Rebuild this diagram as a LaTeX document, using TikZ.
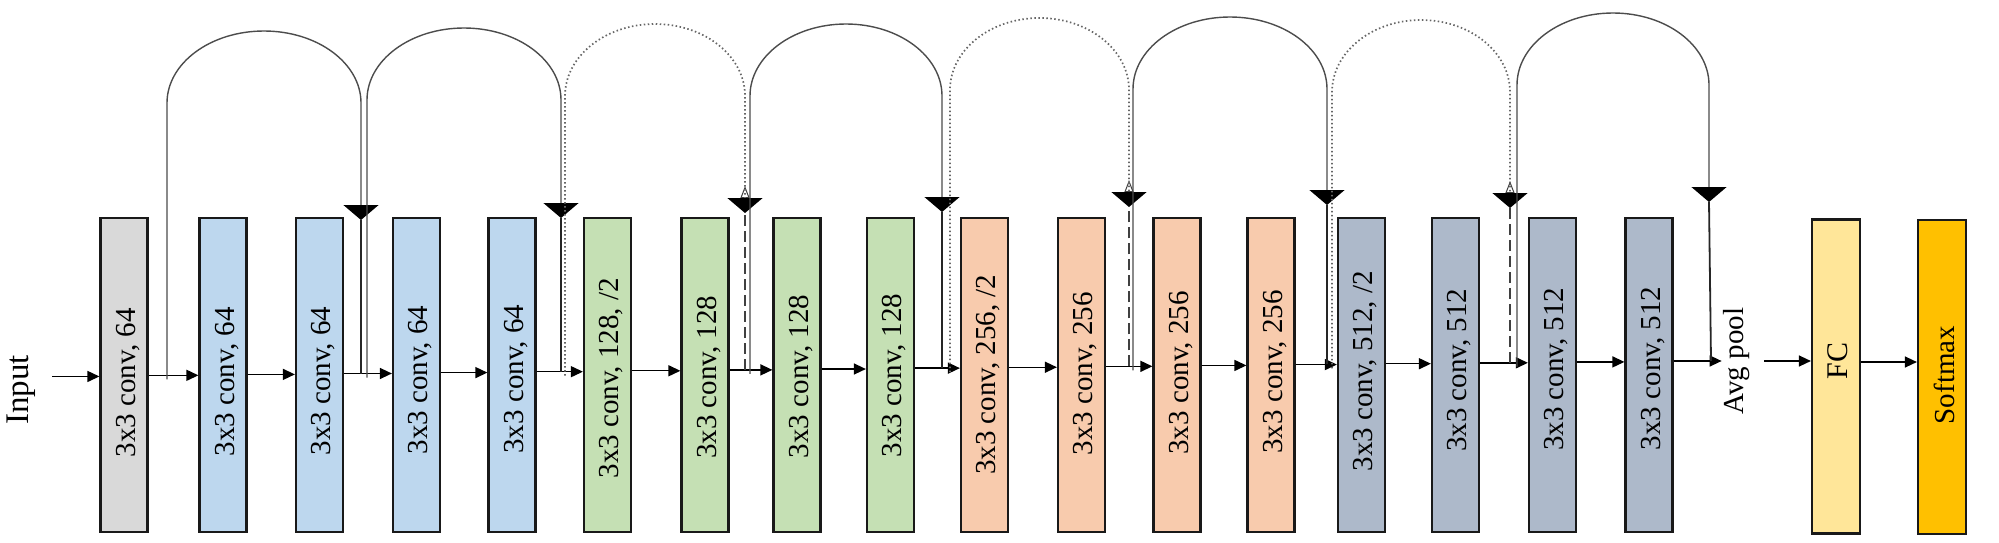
\documentclass[tikz,border=0pt]{standalone}
\usepackage{fontspec}
\setmainfont{Liberation Serif}
\usetikzlibrary{arrows.meta}
\definecolor{cgray}{HTML}{D9D9D9}
\definecolor{cblue}{HTML}{BDD7EE}
\definecolor{cgreen}{HTML}{C5E0B4}
\definecolor{corange}{HTML}{F8CBAD}
\definecolor{cslate}{HTML}{ADB9CA}
\definecolor{cfc}{HTML}{FFE699}
\definecolor{csoft}{HTML}{FFC000}
\newcommand\ym[1]{(376-0.0094*((#1)-100))}
\newcommand\convbox[4]{%
  \node[blk, fill=#3] (#1) at (#2,-375) {};
  \node[lbl] (#1t) at ({#2+4},{-\ym{#2}-7}) {#4};}
\newcommand\conn[3]{%
  \coordinate (m#1) at (#3,{-\ym{#3}});
  \draw[flow] (#1.east |- m#1) -- (#2.west |- m#1);}
\begin{document}
\begin{tikzpicture}[x=1pt,y=1pt,
  blk/.style={draw=black!90, line width=2.2pt, minimum width=47pt, minimum height=314pt, inner sep=0pt},
  lbl/.style={rotate=90, font=\fontsize{29}{34}\selectfont, inner sep=0pt},
  flow/.style={line width=1.4pt, -{Triangle[length=12pt,width=11pt]}},
  skipsolid/.style={draw=black!70, line width=1.4pt, -{Triangle[length=15pt,width=35pt,color=black]}},
  skipdot/.style={draw=black!60, line width=1.7pt, dash pattern=on 1.5pt off 2.5pt, -{Triangle[length=15pt,width=35pt,color=black]}},
  downsolid/.style={draw=black!85, line width=1.8pt},
  downdash/.style={draw=black!75, line width=2.2pt, dash pattern=on 11pt off 5pt, -{Triangle[open,length=12pt,width=9pt,line width=1pt]}},
]
\useasboundingbox (0,0) rectangle (1999,-542);

% ---------- boxes ----------
\convbox{b1}{124}{cgray}{3x3 conv, 64}
\convbox{b2}{223}{cblue}{3x3 conv, 64}
\convbox{b3}{319.5}{cblue}{3x3 conv, 64}
\convbox{b4}{416.5}{cblue}{3x3 conv, 64}
\convbox{b5}{512}{cblue}{3x3 conv, 64}
\convbox{b6}{607.5}{cgreen}{3x3 conv, 128, /2}
\convbox{b7}{705}{cgreen}{3x3 conv, 128}
\convbox{b8}{797}{cgreen}{3x3 conv, 128}
\convbox{b9}{890.5}{cgreen}{3x3 conv, 128}
\convbox{b10}{984.5}{corange}{3x3 conv, 256, /2}
\convbox{b11}{1081.5}{corange}{3x3 conv, 256}
\convbox{b12}{1177}{corange}{3x3 conv, 256}
\convbox{b13}{1271}{corange}{3x3 conv, 256}
\convbox{b14}{1361.5}{cslate}{3x3 conv, 512, /2}
\convbox{b15}{1455.5}{cslate}{3x3 conv, 512}
\convbox{b16}{1552.5}{cslate}{3x3 conv, 512}
\convbox{b17}{1649}{cslate}{3x3 conv, 512}
\node[blk, minimum width=48pt, fill=cfc] (fc) at (1836,-376.5) {};
\node[lbl, font=\fontsize{30}{35}\selectfont] (fct) at (1838,-361) {FC};
\node[blk, minimum width=48pt, fill=csoft] (sm) at (1942,-377) {};
\node[lbl] (smt) at (1944,-375) {Softmax};

\node[lbl, font=\fontsize{33}{38}\selectfont] (in) at (21,-390) {Input};
\node[lbl] (avg) at (1737,-361) {Avg pool};

% ---------- main flow ----------
\coordinate (inA) at (52,{-\ym{52}});
\draw[flow] (inA) -- (b1.west |- inA);
\conn{b1}{b2}{173}
\conn{b2}{b3}{271}
\conn{b3}{b4}{368}
\conn{b4}{b5}{464}
\conn{b5}{b6}{560}
\conn{b6}{b7}{655}
\conn{b7}{b8}{751}
\conn{b8}{b9}{844}
\conn{b9}{b10}{938}
\conn{b10}{b11}{1033}
\conn{b11}{b12}{1129}
\conn{b12}{b13}{1224}
\conn{b13}{b14}{1317}
\conn{b14}{b15}{1409}
\conn{b15}{b16}{1503}
\conn{b16}{b17}{1600}
\coordinate (mb17) at (1697,{-\ym{1697}});
\coordinate (avgin) at ([xshift=-2pt]avg.north);
\draw[flow] (b17.east |- mb17) -- (avgin |- mb17);
\coordinate (avgout) at ([xshift=14pt]avg.south);
\coordinate (mfc) at (1786,-361);
\draw[flow] (avgout |- mfc) -- (fc.west |- mfc);
\coordinate (msm) at (1889,-362);
\draw[flow] (fc.east |- msm) -- (sm.west |- msm);

% ---------- shortcut A (solid) ----------
\coordinate (aS) at (167,{-\ym{167}-4});
\coordinate (aT) at (361,-220);
\coordinate (aM) at (361,{-\ym{361}});
\draw[skipsolid] (aS) -- (167,-103) arc[start angle=180,end angle=0,x radius=97,y radius=72] -- (aT);
\draw[downsolid] (aT) -- (aM);

% ---------- shortcut B (solid) ----------
\coordinate (bS) at (367,{-\ym{367}-4});
\coordinate (bT) at (561,-218);
\coordinate (bM) at (561,{-\ym{561}});
\draw[skipsolid] (bS) -- (367,-100) arc[start angle=180,end angle=0,x radius=97,y radius=72] -- (bT);
\draw[downsolid] (bT) -- (bM);

% ---------- shortcut C (projection, dotted) ----------
\coordinate (cS) at (565,{-\ym{565}-4});
\coordinate (cT) at (745,-213);
\coordinate (cM) at (745,{-\ym{745}});
\coordinate (cO) at (745,-186);
\draw[downdash] (cM) -- (cO);
\draw[skipdot] (cS) -- (565,-96) arc[start angle=180,end angle=0,x radius=90,y radius=72] -- (cT);

% ---------- shortcut D (solid) ----------
\coordinate (dS) at (750,{-\ym{750}-4});
\coordinate (dT) at (942,-212);
\coordinate (dM) at (942,{-\ym{942}});
\draw[skipsolid] (dS) -- (750,-96) arc[start angle=180,end angle=0,x radius=96,y radius=72] -- (dT);
\draw[downsolid] (dT) -- (dM);

% ---------- shortcut E (projection, dotted) ----------
\coordinate (eS) at (950,{-\ym{950}-4});
\coordinate (eT) at (1129,-207);
\coordinate (eM) at (1129,{-\ym{1129}});
\coordinate (eO) at (1129,-180);
\draw[downdash] (eM) -- (eO);
\draw[skipdot] (eS) -- (950,-90) arc[start angle=180,end angle=0,x radius=89.5,y radius=72] -- (eT);

% ---------- shortcut F (solid) ----------
\coordinate (fS) at (1133,{-\ym{1133}-4});
\coordinate (fT) at (1327,-205);
\coordinate (fM) at (1327,{-\ym{1327}});
\draw[skipsolid] (fS) -- (1133,-89) arc[start angle=180,end angle=0,x radius=97,y radius=72] -- (fT);
\draw[downsolid] (fT) -- (fM);

% ---------- shortcut G (projection, dotted) ----------
\coordinate (gS) at (1332,{-\ym{1332}-4});
\coordinate (gT) at (1510,-208);
\coordinate (gM) at (1510,{-\ym{1510}});
\coordinate (gO) at (1510,-181);
\draw[downdash] (gM) -- (gO);
\draw[skipdot] (gS) -- (1332,-92) arc[start angle=180,end angle=0,x radius=89,y radius=72] -- (gT);

% ---------- shortcut H (solid) ----------
\coordinate (hS) at (1517,{-\ym{1517}-4});
\coordinate (hT) at (1709,-202);
\coordinate (hM) at (1711,{-\ym{1711}});
\draw[skipsolid] (hS) -- (1517,-85) arc[start angle=180,end angle=0,x radius=96,y radius=72] -- (hT);
\draw[downsolid] (hT) -- (hM);
\end{tikzpicture}
\end{document}
